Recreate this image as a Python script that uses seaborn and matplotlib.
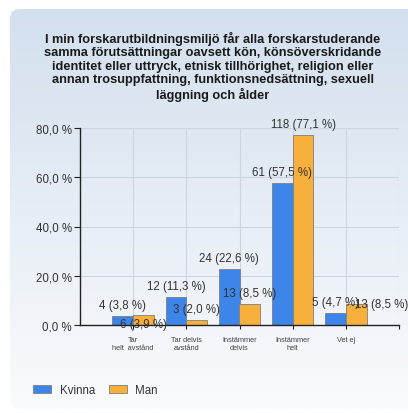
import numpy as np
import pandas as pd
import matplotlib
matplotlib.use("Agg")
import matplotlib.pyplot as plt
import seaborn as sns
from matplotlib.patches import FancyBboxPatch, Patch

# ---------------- data ----------------
categories = ["Tar\nhelt  avstånd", "Tar delvis\navstånd", "Instämmer\ndelvis",
              "Instämmer\nhelt", "Vet ej"]
series = ["Kvinna", "Man"]
kvinna_pct = [3.8, 11.3, 22.6, 57.5, 4.7]
man_pct = [3.9, 2.0, 8.5, 77.1, 8.5]
kvinna_n = [4, 12, 24, 61, 5]
man_n = [6, 3, 13, 118, 13]
yticks = [0, 20, 40, 60, 80]
title = ("I min forskarutbildningsmiljö får alla forskarstuderande\n"
         "samma förutsättningar oavsett kön, könsöverskridande\n"
         "identitet eller uttryck, etnisk tillhörighet, religion eller\n"
         "annan trosuppfattning, funktionsnedsättning, sexuell\n"
         "läggning och ålder")

df = pd.DataFrame({
    "kategori": categories * 2,
    "serie": [series[0]] * len(categories) + [series[1]] * len(categories),
    "pct": kvinna_pct + man_pct,
    "n": kvinna_n + man_n,
})

# ---------------- style ----------------
colors = {"Kvinna": "#3D85E8", "Man": "#F8B03C"}
EDGE = "#7f7f7f"
TXT = "#333333"
sns.set_theme(style="white")
plt.rcParams["font.family"] = ["Liberation Sans", "DejaVu Sans"]

W, H = 408, 414
fig = plt.figure(figsize=(W / 100, H / 100), dpi=100)
fig.patch.set_facecolor("white")

# background panel with gradient and rounded corners
bg = fig.add_axes([0, 0, 1, 1], zorder=0)
bg.set_xlim(0, W)
bg.set_ylim(H, 0)
bg.axis("off")
g = np.linspace(0, 1, 256)[:, None, None]
ctop = np.array([211, 224, 238]) / 255
cbot = np.array([250, 251, 253]) / 255
img = ctop + (cbot - ctop) * g
img = np.repeat(img, 2, axis=1)
im = bg.imshow(img, extent=[10, W + 20, 410, 10], aspect="auto",
               interpolation="bilinear")
panel = FancyBboxPatch((10, 10), W + 10, 400,
                       boxstyle="round,pad=0,rounding_size=10",
                       transform=bg.transData, facecolor="none", edgecolor="none")
bg.add_patch(panel)
im.set_clip_path(panel)

# main axes
ax = fig.add_axes([80 / W, 1 - 326 / H, (399 - 80) / W, (326 - 129) / H], zorder=1)
ax.patch.set_alpha(0)
sns.barplot(data=df, x="kategori", y="pct", hue="serie", hue_order=series,
            palette=colors, width=0.78, saturation=1, edgecolor=EDGE,
            linewidth=0.6, ax=ax, legend=False, errorbar=None)
ax.set_xlim(-1, 5)
ax.set_ylim(0, 80)
ax.set_xlabel("")
ax.set_ylabel("")

ax.set_yticks(yticks)
ax.set_yticklabels([f"{v:.1f}".replace(".", ",") + " %" for v in yticks])
ax.set_xticks(list(range(len(categories) + 1)))
ax.set_xticklabels(categories + [""])
ax.grid(True, color="#cfd5dd", linewidth=0.8)
ax.set_axisbelow(True)
for s in ["top", "right"]:
    ax.spines[s].set_visible(False)
for s in ["left", "bottom"]:
    ax.spines[s].set_color("#222222")
    ax.spines[s].set_linewidth(1.0)
ax.tick_params(axis="y", left=True, length=4, width=0.8, color="#222222",
               pad=2, labelsize=8.3, labelcolor=TXT)
ax.tick_params(axis="x", bottom=True, length=3, width=0.8, color="#222222",
               pad=5, labelsize=5.3, labelcolor="#444444")
for t in ax.get_xticklabels():
    t.set_linespacing(1.25)

# value labels (offsets in pixels to mimic the reference's placement)
counts = [kvinna_n, man_n]
pcts = [kvinna_pct, man_pct]
label_dy = [[11, 11, 11, 11, 11], [-9, 11, 11, 11, 0]]
label_dx = [[0, 0, 0, 0, 0], [0, 0, 0, 0, 25]]
for si, cont in enumerate(ax.containers):
    for ci, bar in enumerate(cont):
        cx = bar.get_x() + bar.get_width() / 2
        top = bar.get_height()
        txt = f"{counts[si][ci]} ({pcts[si][ci]:.1f} %)".replace(".", ",")
        ax.annotate(txt, xy=(cx, top),
                    xytext=(label_dx[si][ci] * 0.72, label_dy[si][ci] * 0.72),
                    textcoords="offset points", ha="center", va="center",
                    fontsize=8.3, color=TXT, annotation_clip=False)

# title
fig.text(213 / W, 1 - 67 / H, title, ha="center", va="center",
         multialignment="center", fontsize=9.2, fontweight="bold",
         linespacing=1.15, color="#1a1a1a")

# legend
handles = [Patch(facecolor=colors[s], edgecolor=EDGE, linewidth=0.6) for s in series]
fig.legend(handles, series, loc="center left", bbox_to_anchor=(33 / W, 1 - 391 / H),
           ncol=2, frameon=False, fontsize=8.3, handlelength=1.6,
           handleheight=0.7, handletextpad=0.7, columnspacing=1.2,
           borderaxespad=0, borderpad=0, labelcolor=TXT)

fig.savefig("out.png", dpi=100)
